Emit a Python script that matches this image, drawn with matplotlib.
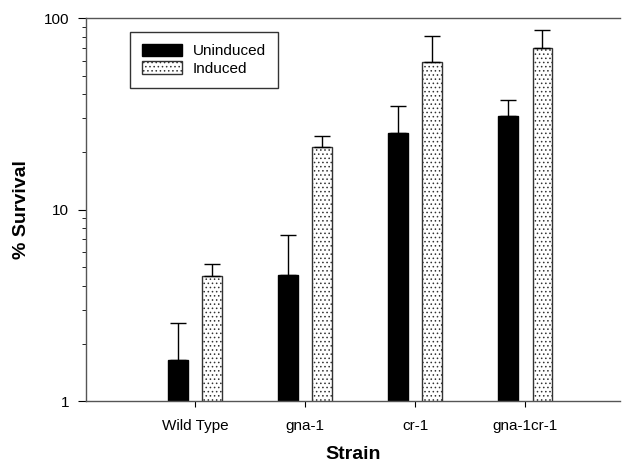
import matplotlib
matplotlib.use("Agg")
import matplotlib.pyplot as plt
import numpy as np

strains = ["Wild Type", "gna-1", "cr-1", "gna-1cr-1"]
uninduced = [1.64, 4.55, 25.1, 30.7]
uninduced_err_top = [2.55, 7.36, 34.7, 37.6]
induced = [4.5, 21.2, 59.1, 70.3]
induced_err_top = [5.19, 24.2, 80.5, 86.9]

plt.rcParams['font.family'] = ['Liberation Sans', 'DejaVu Sans']
plt.rcParams['hatch.linewidth'] = 0.6

fig = plt.figure(figsize=(6.27, 4.67), dpi=100)
ax = fig.add_axes([0.137, 0.141, 0.852, 0.82])

x = np.arange(len(strains))
w = 0.18
off = 0.155

unind = np.array(uninduced)
ind = np.array(induced)
err_u = [np.zeros(len(x)), np.array(uninduced_err_top) - unind]
err_i = [np.zeros(len(x)), np.array(induced_err_top) - ind]

ax.bar(x - off, unind, w, color='black', edgecolor='black', label='Uninduced',
       yerr=err_u, capsize=6, error_kw={'elinewidth': 1, 'capthick': 1, 'ecolor': 'black'})
ax.bar(x + off, ind, w, color='white', edgecolor='#333333', hatch='....', linewidth=1,
       label='Induced',
       yerr=err_i, capsize=6, error_kw={'elinewidth': 1, 'capthick': 1, 'ecolor': 'black'})

ax.set_yscale('log')
ax.set_ylim(1, 100)
ax.set_xlim(-0.99, 3.86)
ax.set_xticks(x)
ax.set_xticklabels(strains, fontsize=11)
ax.set_yticks([1, 10, 100])
ax.set_yticklabels(['1', '10', '100'], fontsize=11)
ax.tick_params(axis='y', which='major', length=6, pad=6)
ax.tick_params(axis='y', which='minor', length=3)
ax.tick_params(axis='x', length=4, pad=9)

ax.spines['right'].set_visible(False)
for s in ['top', 'left', 'bottom']:
    ax.spines[s].set_color('#555555')
    ax.spines[s].set_linewidth(1)

ax.set_ylabel('% Survival', fontsize=14, fontweight='bold', labelpad=10)
ax.set_xlabel('Strain', fontsize=14, fontweight='bold', labelpad=9)

leg = ax.legend(loc='upper left', bbox_to_anchor=(0.068, 0.985), fontsize=11,
                frameon=True, fancybox=False, edgecolor='black',
                handlelength=2.6, handleheight=0.9, borderpad=0.8, labelspacing=0.2,
                handletextpad=0.7)
leg.get_frame().set_linewidth(1)

fig.savefig('out.png', dpi=100)
